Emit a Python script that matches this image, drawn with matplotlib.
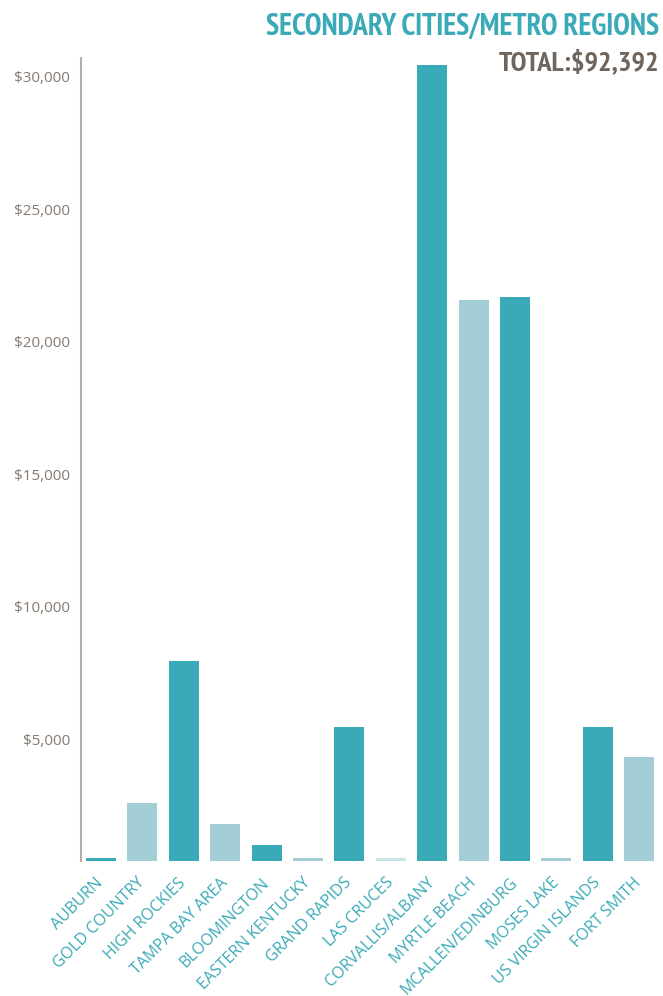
import matplotlib.pyplot as plt
import matplotlib.transforms as mtransforms
from matplotlib.ticker import FuncFormatter

regions = ['AUBURN', 'GOLD COUNTRY', 'HIGH ROCKIES', 'TAMPA BAY AREA', 'BLOOMINGTON',
           'EASTERN KENTUCKY', 'GRAND RAPIDS', 'LAS CRUCES', 'CORVALLIS/ALBANY',
           'MYRTLE BEACH', 'MCALLEN/EDINBURG', 'MOSES LAKE', 'US VIRGIN ISLANDS', 'FORT SMITH']
amounts = [100, 2190, 7540, 1400, 600, 100, 5050, 100, 30000, 21150, 21260, 100, 5050, 3920]
total_label = 'TOTAL:$92,392'
yticks = [5000, 10000, 15000, 20000, 25000, 30000]

teal = '#3AAAB8'
light = '#A4CED5'
pale = '#C8E2E6'
brown = '#6F655C'
colors = [teal, light, teal, light, teal, light, teal, pale, teal, light, teal, light, teal, light]

plt.rcParams['font.family'] = ['Open Sans', 'DejaVu Sans']

fig = plt.figure(figsize=(6.63, 9.96), dpi=100)
ax = fig.add_axes([0.1222, 0.1355, 0.867, 0.806])

x = list(range(len(regions)))
ax.bar(x, amounts, width=0.725, color=colors)

ax.set_xlim(-0.48, 13.4)
ax.set_ylim(0, 30270)
ax.set_yticks(yticks)
ax.yaxis.set_major_formatter(FuncFormatter(lambda v, p: '${:,.0f}'.format(v)))
ax.tick_params(axis='y', length=0, pad=8, labelsize=11, labelcolor='#857A70')
ax.tick_params(axis='x', length=0, pad=14)

# labels in the original sit a bit below their value
shift = mtransforms.ScaledTranslation(0, -11 / 100, fig.dpi_scale_trans)
for lab in ax.get_yticklabels():
    lab.set_transform(lab.get_transform() + shift)

ax.set_xticks(x)
ax.set_xticklabels(regions, rotation=45, ha='right', va='center',
                   rotation_mode='anchor', fontsize=11.5, color=teal)

for s in ['top', 'right', 'bottom']:
    ax.spines[s].set_visible(False)
ax.spines['left'].set_color('#B8ADA5')
ax.spines['left'].set_linewidth(1.5)

head = ['PT Sans Narrow', 'DejaVu Sans']
fig.text(0.994, 0.973, 'SECONDARY CITIES/METRO REGIONS', ha='right', va='center',
         fontsize=21.5, fontweight='bold', color=teal, family=head)
fig.text(0.994, 0.937, total_label, ha='right', va='center',
         fontsize=20.5, fontweight='bold', color=brown, family=head)

fig.savefig('out.png', dpi=100)
